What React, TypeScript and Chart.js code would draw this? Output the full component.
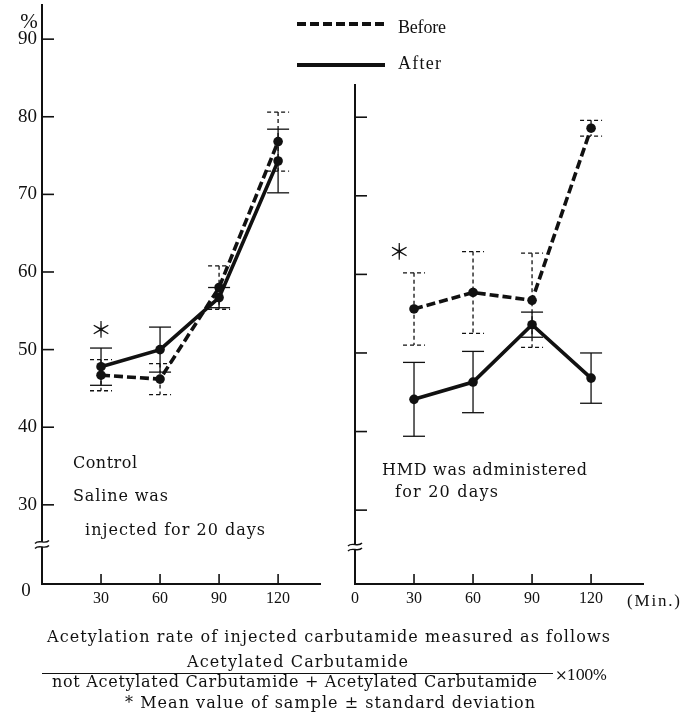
import React, { useEffect, useRef } from "react";
import { Chart, registerables } from "chart.js";

Chart.register(...registerables);

// Sampling times after injection (min)
const minutes = [30, 60, 90, 120];

// Control group, saline injected for 20 days: mean and SD (%)
const controlBefore = [46.7, 46.2, 58.0, 76.8];
const controlBeforeSd = [2.0, 2.0, 2.8, 3.8];
const controlAfter = [47.8, 50.0, 56.7, 74.3];
const controlAfterSd = [2.4, 2.9, 1.3, 4.1];

// HMD group, HMD administered for 20 days: mean and SD (%)
const hmdBefore = [55.6, 57.7, 56.7, 78.6];
const hmdBeforeSd = [4.6, 5.2, 6.0, 1.0];
const hmdAfter = [44.1, 46.3, 53.6, 46.8];
const hmdAfterSd = [4.7, 3.9, 1.6, 3.2];

const seriesNames = ["Before", "After"];

const leftYTicks = [30, 40, 50, 60, 70, 80, 90];
const rightYTicks = [30, 40, 50, 60, 70, 80];
const leftXTicks = [30, 60, 90, 120];
const rightXTicks = [0, 30, 60, 90, 120];
const axisZeroLabel = "0";
const yUnit = "%";
const xUnit = "(Min.)";
const significanceMark = "＊";

const controlNotes = ["Control", "Saline was", "injected for 20 days"];
const hmdNotes = ["HMD was administered", "for 20 days"];
const captionTitle = "Acetylation rate of injected carbutamide measured as follows";
const captionNumerator = "Acetylated Carbutamide";
const captionDenominator = "not Acetylated Carbutamide + Acetylated Carbutamide";
const captionFactor = "×100%";
const captionFootnote = "* Mean value of sample ± standard deviation";

const INK = "#111111";
const SERIF = '"Liberation Serif", "Times New Roman", serif';
const WIDE_SERIF = '"DejaVu Serif", serif';

function drawLine(ctx: CanvasRenderingContext2D, x1: number, y1: number, x2: number, y2: number) {
  ctx.beginPath();
  ctx.moveTo(x1, y1);
  ctx.lineTo(x2, y2);
  ctx.stroke();
}

// Draws text starting at x so that it spans the given width (letter spacing adjusted).
function fitText(ctx: CanvasRenderingContext2D, text: string, x: number, y: number, width: number) {
  const c = ctx as any;
  c.letterSpacing = "0px";
  ctx.textAlign = "left";
  const natural = ctx.measureText(text).width;
  const n = Array.from(text).length;
  const sp = n > 1 ? (width - natural) / (n - 1) : 0;
  c.letterSpacing = `${sp}px`;
  ctx.fillText(text, x, y);
  c.letterSpacing = "0px";
}

function buildDatasets(before: number[], beforeSd: number[], after: number[], afterSd: number[]) {
  const pts = (vals: number[]) => minutes.map((m, i) => ({ x: m, y: vals[i] }));
  const common = {
    borderColor: INK,
    backgroundColor: INK,
    borderWidth: 3.6,
    pointRadius: 4.8,
    pointHoverRadius: 4.8,
    pointBackgroundColor: INK,
    pointBorderWidth: 0,
    tension: 0,
    fill: false,
  };
  return [
    { ...common, label: seriesNames[0], data: pts(before), errors: beforeSd, errorDash: [4, 3], borderDash: [9, 4] },
    { ...common, label: seriesNames[1], data: pts(after), errors: afterSd, errorDash: [], borderDash: [] },
  ];
}

function fixedBox(size: number, horizontal: boolean) {
  return (scale: any) => {
    if (horizontal) scale.height = size;
    else scale.width = size;
    scale.paddingTop = 0;
    scale.paddingBottom = 0;
    scale.paddingLeft = 0;
    scale.paddingRight = 0;
  };
}

interface Note { text: string; x: number; y: number; w: number }
interface PanelSpec {
  yTicks: number[];
  notes: Note[];
  mark: { x: number; y: number };
  left: boolean;
}

function makePanelPlugin(spec: PanelSpec) {
  return {
    id: "panelDecor",
    beforeDatasetsDraw(chart: any) {
      // error bars (mean ± SD)
      const ctx: CanvasRenderingContext2D = chart.ctx;
      const ys = chart.scales.y;
      ctx.save();
      ctx.strokeStyle = INK;
      ctx.lineWidth = 1.3;
      chart.data.datasets.forEach((ds: any, di: number) => {
        const meta = chart.getDatasetMeta(di);
        ctx.setLineDash(ds.errorDash);
        meta.data.forEach((el: any, i: number) => {
          const v = ds.data[i].y;
          const e = ds.errors[i];
          const top = ys.getPixelForValue(v + e);
          const bot = ys.getPixelForValue(v - e);
          const x = el.x;
          drawLine(ctx, x, top, x, bot);
          drawLine(ctx, x - 11, top, x + 11, top);
          drawLine(ctx, x - 11, bot, x + 11, bot);
        });
      });
      ctx.restore();
    },
    afterDraw(chart: any) {
      const ctx: CanvasRenderingContext2D = chart.ctx;
      const xs = chart.scales.x;
      const ys = chart.scales.y;
      const { left, bottom } = chart.chartArea;
      ctx.save();
      ctx.strokeStyle = INK;
      ctx.fillStyle = INK;
      ctx.setLineDash([]);

      // inward tick marks
      ctx.lineWidth = 1.6;
      ys.ticks.forEach((t: any) => {
        if (t.value <= ys.min) return;
        const y = ys.getPixelForValue(t.value);
        drawLine(ctx, left, y, left + 12, y);
      });
      xs.ticks.forEach((t: any) => {
        if (t.value <= xs.min) return;
        const x = xs.getPixelForValue(t.value);
        drawLine(ctx, x, bottom, x, bottom - 10);
      });

      // axis break between the origin and the first labelled tick
      const yb = ys.getPixelForValue((ys.min + spec.yTicks[0]) / 2);
      ctx.fillStyle = "#ffffff";
      ctx.fillRect(left - 2, yb - 2.5, 4, 5);
      ctx.fillStyle = INK;
      ctx.lineWidth = 1.4;
      for (const dy of [-2.5, 2.5]) {
        ctx.beginPath();
        ctx.moveTo(left - 7, yb + dy + 1.5);
        ctx.bezierCurveTo(left - 3, yb + dy - 3, left + 3, yb + dy + 3, left + 7, yb + dy - 1.5);
        ctx.stroke();
      }

      // group notes
      ctx.font = `16px ${WIDE_SERIF}`;
      ctx.textBaseline = "alphabetic";
      spec.notes.forEach((n) => fitText(ctx, n.text, n.x, n.y, n.w));

      // significance mark
      ctx.font = '22px "Noto Sans CJK JP"';
      ctx.textAlign = "center";
      ctx.textBaseline = "middle";
      ctx.fillText(significanceMark, xs.getPixelForValue(spec.mark.x), ys.getPixelForValue(spec.mark.y));

      if (spec.left) {
        ctx.font = `21px ${SERIF}`;
        ctx.textAlign = "center";
        ctx.textBaseline = "middle";
        ctx.fillText(yUnit, 29, 22);
        ctx.font = `19px ${SERIF}`;
        ctx.fillText(axisZeroLabel, 26, 591);
      } else {
        // x unit
        ctx.font = `17px ${SERIF}`;
        ctx.textBaseline = "alphabetic";
        fitText(ctx, xUnit, 627, 606, 53);

        // legend
        chart.data.datasets.forEach((ds: any, i: number) => {
          const ly = [24, 65][i];
          ctx.lineWidth = 4;
          ctx.setLineDash(ds.borderDash);
          drawLine(ctx, 297, ly, 385, ly);
          ctx.setLineDash([]);
          ctx.font = `18px ${SERIF}`;
          fitText(ctx, ds.label, 398, [33, 69][i], [48, 43][i]);
        });

        // caption
        ctx.font = `16px ${WIDE_SERIF}`;
        fitText(ctx, captionTitle, 47, 642, 563);
        fitText(ctx, captionNumerator, 187, 667, 221);
        ctx.lineWidth = 1;
        drawLine(ctx, 42, 673.5, 553, 673.5);
        fitText(ctx, captionDenominator, 52, 687, 485);
        ctx.font = `15px ${WIDE_SERIF}`;
        fitText(ctx, captionFactor, 555, 680, 52);
        ctx.font = `16px ${WIDE_SERIF}`;
        fitText(ctx, captionFootnote, 125, 708, 410);
      }
      ctx.restore();
    },
  };
}

function makeConfig(opts: {
  datasets: any[];
  xRange: [number, number];
  yRange: [number, number];
  xTicks: number[];
  yTicks: number[];
  yWidth: number;
  padding: { left: number; right: number; top: number; bottom: number };
  spec: PanelSpec;
}): any {
  return {
    type: "line",
    data: { datasets: opts.datasets },
    options: {
      responsive: false,
      animation: false,
      events: [],
      layout: { padding: opts.padding },
      plugins: { legend: { display: false }, tooltip: { enabled: false } },
      scales: {
        x: {
          type: "linear",
          min: opts.xRange[0],
          max: opts.xRange[1],
          afterBuildTicks: (scale: any) => {
            scale.ticks = opts.xTicks.map((v) => ({ value: v }));
          },
          afterFit: fixedBox(36, true),
          grid: { display: false, drawTicks: false },
          border: { display: true, color: INK, width: 2 },
          ticks: {
            autoSkip: false,
            maxRotation: 0,
            padding: 5,
            color: INK,
            font: { family: SERIF, size: 16 },
            callback: (v: number) => String(v),
          },
        },
        y: {
          type: "linear",
          min: opts.yRange[0],
          max: opts.yRange[1],
          afterBuildTicks: (scale: any) => {
            scale.ticks = [scale.min, ...opts.yTicks].map((v) => ({ value: v }));
          },
          afterFit: fixedBox(opts.yWidth, false),
          grid: { display: false, drawTicks: false },
          border: { display: true, color: INK, width: 2 },
          ticks: {
            autoSkip: false,
            padding: 5,
            color: INK,
            font: { family: SERIF, size: 19 },
            callback: (v: number) => (opts.spec.left && opts.yTicks.includes(v) ? String(v) : ""),
          },
        },
      },
    },
    plugins: [makePanelPlugin(opts.spec)],
  };
}

export default function App() {
  const leftRef = useRef<HTMLCanvasElement>(null);
  const rightRef = useRef<HTMLCanvasElement>(null);

  useEffect(() => {
    const rightChart = new Chart(
      rightRef.current!,
      makeConfig({
        datasets: buildDatasets(hmdBefore, hmdBeforeSd, hmdAfter, hmdAfterSd),
        xRange: [0, 146.4],
        yRange: [20.6, 84.1],
        xTicks: rightXTicks,
        yTicks: rightYTicks,
        yWidth: 25,
        padding: { left: 330, right: 44, top: 85, bottom: 97 },
        spec: {
          yTicks: rightYTicks,
          left: false,
          mark: { x: 22.5, y: 63.0 },
          notes: [
            { text: hmdNotes[0], x: 382, y: 475, w: 205 },
            { text: hmdNotes[1], x: 395, y: 497, w: 103 },
          ],
        },
      })
    );
    const leftChart = new Chart(
      leftRef.current!,
      makeConfig({
        datasets: buildDatasets(controlBefore, controlBeforeSd, controlAfter, controlAfterSd),
        xRange: [0, 141.3],
        yRange: [19.8, 94.4],
        xTicks: leftXTicks,
        yTicks: leftYTicks,
        yWidth: 42,
        padding: { left: 0, right: 10, top: 5, bottom: 0 },
        spec: {
          yTicks: leftYTicks,
          left: true,
          mark: { x: 30, y: 52.7 },
          notes: [
            { text: controlNotes[0], x: 73, y: 468, w: 64 },
            { text: controlNotes[1], x: 73, y: 501, w: 95 },
            { text: controlNotes[2], x: 85, y: 535, w: 180 },
          ],
        },
      })
    );
    return () => {
      leftChart.destroy();
      rightChart.destroy();
    };
  }, []);

  return (
    <div style={{ position: "absolute", left: 0, top: 0, width: 687, height: 717, background: "#ffffff" }}>
      <canvas ref={rightRef} width={687} height={717} style={{ position: "absolute", left: 0, top: 0 }} />
      <canvas ref={leftRef} width={330} height={620} style={{ position: "absolute", left: 0, top: 0 }} />
    </div>
  );
}
